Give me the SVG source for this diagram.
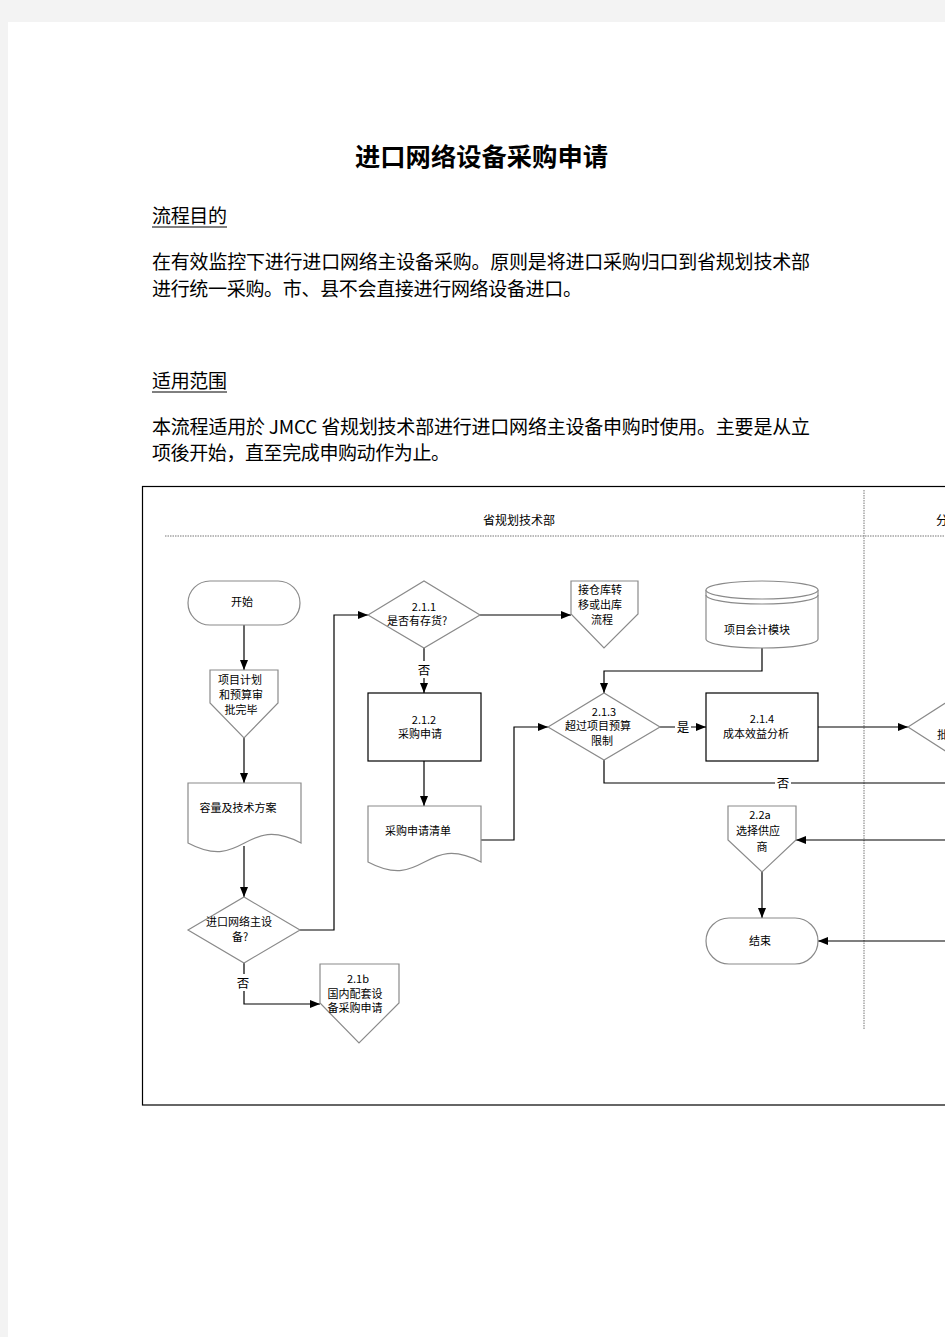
<svg xmlns="http://www.w3.org/2000/svg" width="945" height="1337" viewBox="0 0 945 1337">
<style>
.cn{font-family:"Noto Sans CJK SC",sans-serif;fill:#000}
.t{font-family:"Noto Sans CJK SC",sans-serif;font-size:11px;fill:#000;text-anchor:middle}
.ts{font-family:"Noto Sans CJK SC",sans-serif;font-size:11px;fill:#000;text-anchor:start}
.lbl{font-family:"Noto Sans CJK SC",sans-serif;font-size:12.5px;fill:#000;text-anchor:middle}
.shape{fill:#fff;stroke:#8a8a8a;stroke-width:1.2}
.box{fill:#fff;stroke:#000;stroke-width:1.2}
.conn{fill:none;stroke:#000;stroke-width:1.2;marker-end:url(#arr)}
.line{fill:none;stroke:#000;stroke-width:1.2}
.dot{stroke:#777;stroke-width:1;stroke-dasharray:1.5,1}
</style>
<defs>
<marker id="arr" viewBox="0 0 10 8" refX="10" refY="4" markerWidth="10" markerHeight="8" markerUnits="userSpaceOnUse" orient="auto"><path d="M0,0 L10,4 L0,8 z" fill="#000"/></marker>
</defs>
<rect x="0" y="0" width="945" height="1337" fill="#f3f3f3"/>
<rect x="8" y="22" width="937" height="1315" fill="#fff"/>

<g id="header">
<text class="cn" x="355" y="165.5" font-size="25" font-weight="bold" textLength="253" lengthAdjust="spacingAndGlyphs">进口网络设备采购申请</text>
<text class="cn" x="152" y="223" font-size="19" textLength="75">流程目的</text>
<line x1="152" y1="227" x2="227" y2="227" stroke="#000" stroke-width="1"/>
<text class="cn" x="152" y="269" font-size="19" textLength="658">在有效监控下进行进口网络主设备采购。原则是将进口采购归口到省规划技术部</text>
<text class="cn" x="152" y="296" font-size="19" textLength="430">进行统一采购。市、县不会直接进行网络设备进口。</text>
<text class="cn" x="152" y="388" font-size="19" textLength="75">适用范围</text>
<line x1="152" y1="392" x2="227" y2="392" stroke="#000" stroke-width="1"/>
<text class="cn" x="152" y="434" font-size="19" textLength="658">本流程适用於 JMCC 省规划技术部进行进口网络主设备申购时使用。主要是从立</text>
<text class="cn" x="152" y="460" font-size="19" textLength="298">项後开始，直至完成申购动作为止。</text>
</g>

<g id="frame">
<rect x="142.5" y="486.5" width="900" height="618.5" fill="none" stroke="#000" stroke-width="1.2"/>
<line class="dot" x1="165" y1="536" x2="945" y2="536"/>
<line class="dot" x1="864" y1="490" x2="864" y2="1030"/>
<text class="t" x="519" y="525" style="font-size:12px">省规划技术部</text>
<text class="ts" x="936" y="525" style="font-size:12px">分</text>
</g>

<g id="connectors">
<path class="conn" d="M244,625 V670"/>
<path class="conn" d="M244,738 V783"/>
<path class="conn" d="M244,846 V897"/>
<path class="conn" d="M300,930 H334 V615 H368"/>
<path class="conn" d="M244,963 V1004 H320"/>
<path class="conn" d="M480,615 H571"/>
<path class="conn" d="M424,648 V693"/>
<path class="conn" d="M424,761 V806"/>
<path class="conn" d="M481,840 H514 V727 H548"/>
<path class="conn" d="M762,648 V671 H604 V693"/>
<path class="conn" d="M660,727 H706"/>
<path class="conn" d="M818,727 H908"/>
<path class="line" d="M604,760 V783 H950"/>
<path class="conn" d="M950,840 H796"/>
<path class="conn" d="M762,872 V918"/>
<path class="conn" d="M950,941 H818"/>
<rect x="416" y="661" width="16" height="17" fill="#fff"/>
<text class="lbl" x="424" y="675">否</text>
<rect x="235" y="974" width="16" height="17" fill="#fff"/>
<text class="lbl" x="243" y="988">否</text>
<rect x="675" y="718" width="16" height="17" fill="#fff"/>
<text class="lbl" x="683" y="732">是</text>
<rect x="775" y="774" width="16" height="17" fill="#fff"/>
<text class="lbl" x="783" y="788">否</text>
</g>

<g id="start">
<rect class="shape" x="188" y="581" width="112" height="44" rx="22"/>
<text class="t" x="242" y="606">开始</text>
</g>
<g id="plan-approved">
<path class="shape" d="M210,670 H278 V703 L244,738 L210,703 Z"/>
<text class="t" x="240" y="684">项目计划</text>
<text class="t" x="241" y="699">和预算审</text>
<text class="t" x="241" y="714">批完毕</text>
</g>
<g id="capacity-doc">
<path class="shape" d="M188,783 H301 V843 C244.5,813 244.5,873 188,843 Z"/>
<text class="t" x="238" y="812">容量及技术方案</text>
</g>
<g id="import-decision">
<polygon class="shape" points="188,930 244,897 300,930 244,963"/>
<text class="t" x="239" y="926">进口网络主设</text>
<text class="t" x="240" y="941">备?</text>
</g>
<g id="n-2-1b">
<path class="shape" d="M320,964 H399 V1003 L359,1043 L320,1003 Z"/>
<text class="t" x="358" y="983">2.1b</text>
<text class="t" x="355" y="998">国内配套设</text>
<text class="t" x="355" y="1012">备采购申请</text>
</g>
<g id="n-2-1-1">
<polygon class="shape" points="368,615 424,581 480,615 424,648"/>
<text class="t" x="424" y="611">2.1.1</text>
<text class="t" x="417" y="625">是否有存货?</text>
</g>
<g id="warehouse">
<path class="shape" d="M571,581 H638 V614 L604,648 L571,614 Z"/>
<text class="t" x="600" y="594">接仓库转</text>
<text class="t" x="600" y="609">移或出库</text>
<text class="t" x="602" y="624">流程</text>
</g>
<g id="n-2-1-2">
<rect class="box" x="368" y="693" width="113" height="68"/>
<text class="t" x="424" y="724">2.1.2</text>
<text class="t" x="420" y="738">采购申请</text>
</g>
<g id="purchase-list">
<path class="shape" d="M368,806 H481 V862 C424.5,832 424.5,892 368,862 Z"/>
<text class="t" x="418" y="835">采购申请清单</text>
</g>
<g id="accounting-db">
<path class="shape" d="M706,590 V639 A56,9 0 0 0 818,639 V590"/>
<ellipse class="shape" cx="762" cy="590" rx="56" ry="9"/>
<path class="shape" fill="none" style="fill:none" d="M706,595 A56,9 0 0 0 818,595"/>
<text class="t" x="757" y="634">项目会计模块</text>
</g>
<g id="n-2-1-3">
<polygon class="shape" points="548,727 604,693 660,727 604,760"/>
<text class="t" x="604" y="716">2.1.3</text>
<text class="t" x="598" y="730">超过项目预算</text>
<text class="t" x="602" y="745">限制</text>
</g>
<g id="n-2-1-4">
<rect class="box" x="706" y="693" width="112" height="68"/>
<text class="t" x="762" y="723">2.1.4</text>
<text class="t" x="756" y="738">成本效益分析</text>
</g>
<g id="approve-decision">
<polygon class="shape" points="908,727 964,691 1020,727 964,763"/>
<text class="ts" x="937" y="739">批</text>
</g>
<g id="n-2-2a">
<path class="shape" d="M728,806 H796 V840 L762,872 L728,840 Z"/>
<text class="t" x="760" y="819">2.2a</text>
<text class="t" x="758" y="835">选择供应</text>
<text class="t" x="762" y="851">商</text>
</g>
<g id="end">
<rect class="shape" x="706" y="918" width="112" height="46" rx="23"/>
<text class="t" x="760" y="945">结束</text>
</g>
</svg>
